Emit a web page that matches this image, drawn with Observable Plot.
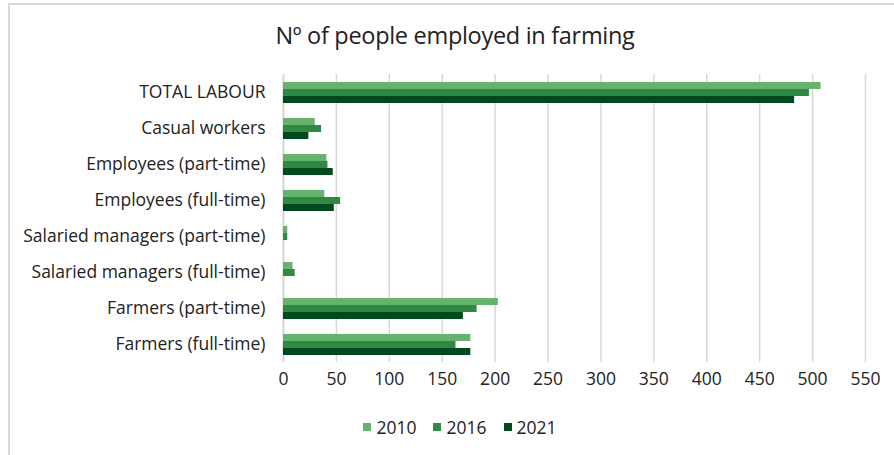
<!DOCTYPE html>
<html>
<head>
<meta charset="utf-8">
<script src="https://cdn.jsdelivr.net/npm/d3@7"></script>
<script src="https://cdn.jsdelivr.net/npm/@observablehq/plot@0.6"></script>
<style>
  html, body { margin: 0; padding: 0; background: #fff; }
  body { width: 894px; height: 455px; overflow: hidden; position: relative; font-family: "Open Sans", Lato, sans-serif; color: #222; }
  #frame { position: absolute; left: 8px; top: 3px; width: 900px; height: 470px; border-left: 2px solid #d9d9d9; border-top: 2px solid #d9d9d9; }
  #title { position: absolute; left: 0; width: 910px; top: 19px; text-align: center; font-size: 23.5px; color: #222; letter-spacing: -0.3px; }
  #chart { position: absolute; left: 0; top: 60px; }
  #legend { position: absolute; left: 0; width: 920px; top: 414px; display: flex; justify-content: center; gap: 17px; font-size: 17.5px; line-height: 26px; }
  #legend .item { display: flex; align-items: center; gap: 5px; }
  #legend .sw { width: 8px; height: 8px; display: inline-block; }
</style>
</head>
<body>
<div id="frame"></div>
<div id="title">Nº of people employed in farming</div>
<div id="chart"></div>
<div id="legend"></div>
<script>
const categories = [
  "TOTAL LABOUR",
  "Casual workers",
  "Employees (part-time)",
  "Employees (full-time)",
  "Salaried managers (part-time)",
  "Salaried managers (full-time)",
  "Farmers (part-time)",
  "Farmers (full-time)"
];
const years = ["2010", "2016", "2021"];
const colors = ["#66b26e", "#2e8a43", "#00491e"];
const values2010 = [508, 30, 41, 39, 4, 9, 203, 177];
const values2016 = [497, 36, 42, 54, 4, 11, 183, 163];
const values2021 = [483, 24, 47, 48, 0, 0, 170, 177];
const xTicks = [0, 50, 100, 150, 200, 250, 300, 350, 400, 450, 500, 550];

const series = [values2010, values2016, values2021];
const data = [];
categories.forEach((c, i) => {
  years.forEach((y, j) => {
    data.push({category: c, year: y, value: series[j][i]});
  });
});

const plot = Plot.plot({
  width: 894,
  height: 345,
  marginLeft: 283,
  marginRight: 29,
  marginTop: 14,
  marginBottom: 43,
  style: {fontFamily: "'Open Sans', Lato, sans-serif", fontSize: "17.5px", color: "#222", background: "transparent"},
  fy: {domain: categories, padding: 0, label: null, axis: "left", tickSize: 0, tickPadding: 18},
  y: {domain: years, axis: null, paddingInner: 0, paddingOuter: 0.8},
  x: {domain: [0, 550], ticks: xTicks, tickSize: 0, tickPadding: 12, label: null, tickFormat: d => String(d)},
  color: {domain: years, range: colors},
  marks: [
    Plot.gridX(xTicks, {stroke: "#d9d9d9", strokeOpacity: 1, strokeWidth: 1.5}),
    Plot.ruleX([0], {stroke: "#d9d9d9", strokeWidth: 2}),
    Plot.barX(data, {fy: "category", y: "year", x: "value", fill: "year", inset: 0}),
    Plot.axisX({ticks: xTicks, tickSize: 0, tickPadding: 10, fontSize: 17.5, facetAnchor: "bottom"})
  ]
});
document.getElementById("chart").appendChild(plot);

const legend = document.getElementById("legend");
years.forEach((y, j) => {
  const item = document.createElement("div");
  item.className = "item";
  const sw = document.createElement("span");
  sw.className = "sw";
  sw.style.background = colors[j];
  const t = document.createElement("span");
  t.textContent = y;
  item.appendChild(sw);
  item.appendChild(t);
  legend.appendChild(item);
});
</script>
</body>
</html>
